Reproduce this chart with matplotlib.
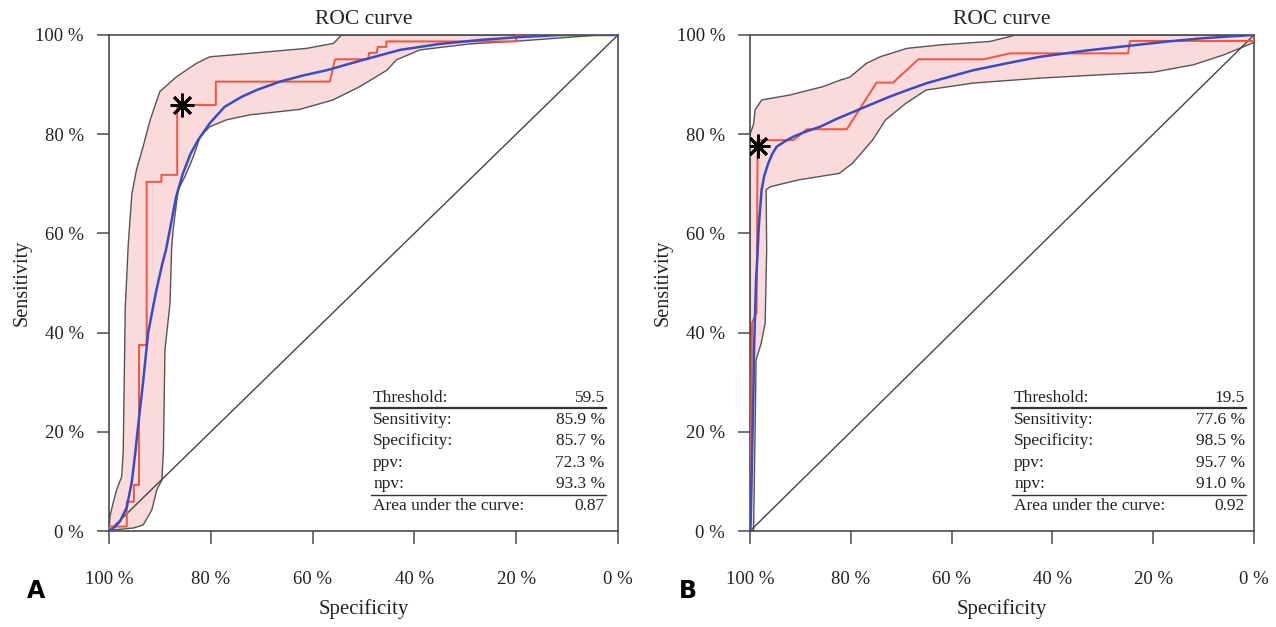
import matplotlib
matplotlib.use("Agg")
import matplotlib.pyplot as plt
import numpy as np

plt.rcParams['font.family'] = ['Liberation Serif', 'DejaVu Serif']

# ---- panel A data (specificity, sensitivity) ----
roc_a_spec = [1.0, 1.0, 0.965, 0.965, 0.951, 0.951, 0.941, 0.941, 0.926, 0.926, 0.897, 0.897,
              0.866, 0.866, 0.79, 0.79, 0.566, 0.556, 0.491, 0.489, 0.474, 0.472, 0.455, 0.455,
              0.20, 0.20, 0.0]
roc_a_sens = [0.0, 0.009, 0.009, 0.059, 0.059, 0.093, 0.093, 0.375, 0.375, 0.704, 0.704, 0.718,
              0.718, 0.859, 0.859, 0.906, 0.906, 0.951, 0.951, 0.964, 0.964, 0.976, 0.976, 0.987,
              0.987, 1.0, 1.0]
smooth_a_spec = [1.0, 0.995, 0.988, 0.978, 0.965, 0.955, 0.948, 0.944, 0.933, 0.923, 0.908,
                 0.895, 0.888, 0.878, 0.868, 0.855, 0.84, 0.825, 0.802, 0.773, 0.74, 0.71,
                 0.664, 0.62, 0.572, 0.5, 0.428, 0.35, 0.27, 0.19, 0.114, 0.0]
smooth_a_sens = [0.0, 0.003, 0.009, 0.02, 0.048, 0.10, 0.16, 0.20, 0.30, 0.40, 0.48, 0.54,
                 0.567, 0.62, 0.674, 0.72, 0.76, 0.788, 0.822, 0.855, 0.875, 0.889, 0.906,
                 0.918, 0.929, 0.95, 0.97, 0.982, 0.99, 0.996, 1.0, 1.0]
ci_a_up_spec = [1.0, 0.998, 0.992, 0.985, 0.975, 0.972, 0.968, 0.962, 0.955, 0.946, 0.933, 0.919,
                0.900, 0.867, 0.828, 0.802, 0.756, 0.690, 0.612, 0.559, 0.543, 0.0]
ci_a_up_sens = [0.0, 0.03, 0.056, 0.083, 0.11, 0.16, 0.45, 0.58, 0.68, 0.728, 0.775, 0.829,
                0.886, 0.916, 0.943, 0.956, 0.960, 0.966, 0.973, 0.983, 1.0, 1.0]
ci_a_lo_spec = [1.0, 0.992, 0.952, 0.933, 0.916, 0.906, 0.896, 0.893, 0.890, 0.880, 0.877, 0.874,
                0.864, 0.851, 0.834, 0.821, 0.802, 0.769, 0.723, 0.625, 0.560, 0.507, 0.454,
                0.435, 0.389, 0.291, 0.193, 0.114, 0.035, 0.0]
ci_a_lo_sens = [0.0, 0.002, 0.006, 0.012, 0.042, 0.083, 0.103, 0.163, 0.365, 0.46, 0.567, 0.607,
                0.688, 0.714, 0.755, 0.795, 0.815, 0.829, 0.839, 0.85, 0.869, 0.896, 0.929,
                0.95, 0.97, 0.982, 0.988, 0.994, 1.0, 1.0]
best_a = (0.857, 0.859)
labels_a = ["Threshold:", "Sensitivity:", "Specificity:", "ppv:", "npv:", "Area under the curve:"]
values_a = ["59.5", "85.9 %", "85.7 %", "72.3 %", "93.3 %", "0.87"]

# ---- panel B data ----
roc_b_spec = [1.0, 0.996, 0.987, 0.985, 0.985, 0.914, 0.887, 0.808, 0.749, 0.716, 0.666, 0.537,
              0.484, 0.25, 0.246, 0.0, 0.0]
roc_b_sens = [0.0, 0.42, 0.44, 0.776, 0.788, 0.788, 0.81, 0.81, 0.904, 0.904, 0.951, 0.951,
              0.963, 0.963, 0.988, 0.988, 1.0]
smooth_b_spec = [1.0, 0.999, 0.997, 0.995, 0.993, 0.992, 0.990, 0.988, 0.985, 0.983, 0.980,
                 0.977, 0.972, 0.964, 0.956, 0.947, 0.93, 0.914, 0.89, 0.861, 0.83, 0.802,
                 0.76, 0.722, 0.685, 0.649, 0.6, 0.557, 0.49, 0.425, 0.33, 0.25, 0.17, 0.107,
                 0.05, 0.0]
smooth_b_sens = [0.0, 0.01, 0.1, 0.2, 0.3, 0.365, 0.44, 0.506, 0.56, 0.607, 0.65,
                 0.688, 0.715, 0.741, 0.76, 0.775, 0.786, 0.795, 0.805, 0.815, 0.83, 0.842,
                 0.86, 0.876, 0.89, 0.903, 0.917, 0.929, 0.943, 0.956, 0.969, 0.978, 0.987,
                 0.993, 0.997, 1.0]
ci_b_up_spec = [1.0, 1.0, 0.993, 0.99, 0.977, 0.921, 0.855, 0.821, 0.802, 0.769, 0.742, 0.689,
                0.623, 0.524, 0.484, 0.474, 0.0]
ci_b_up_sens = [0.0, 0.80, 0.82, 0.849, 0.869, 0.879, 0.896, 0.909, 0.915, 0.943, 0.956, 0.973,
                0.98, 0.987, 0.997, 1.0, 1.0]
ci_b_lo_spec = [1.0, 0.993, 0.99, 0.988, 0.978, 0.97, 0.967, 0.968, 0.96, 0.903, 0.823, 0.797,
                0.757, 0.731, 0.691, 0.651, 0.558, 0.425, 0.3, 0.2, 0.12, 0.06, 0.0]
ci_b_lo_sens = [0.0, 0.0, 0.2, 0.345, 0.378, 0.419, 0.567, 0.688, 0.694, 0.708, 0.721, 0.741,
                0.788, 0.829, 0.862, 0.889, 0.903, 0.913, 0.92, 0.925, 0.94, 0.96, 0.985]
best_b = (0.985, 0.776)
labels_b = labels_a
values_b = ["19.5", "77.6 %", "98.5 %", "95.7 %", "91.0 %", "0.92"]

ticks = [1.0, 0.8, 0.6, 0.4, 0.2, 0.0]
tick_labels = ["100 %", "80 %", "60 %", "40 %", "20 %", "0 %"]

axis_col = "#4a4a4a"
fig = plt.figure(figsize=(12.76, 6.27), dpi=100)


def roc_panel(rect, roc, smooth, ci_up, ci_lo, best, labels, values, tx, letter, lx):
    ax = fig.add_axes(rect)
    # confidence band as polygon
    px = list(ci_up[0]) + list(ci_lo[0])[::-1]
    py = list(ci_up[1]) + list(ci_lo[1])[::-1]
    ax.fill(px, py, color="#fadada", lw=0, zorder=1)
    ax.plot(ci_up[0], ci_up[1], color="#555555", lw=1.0, zorder=2)
    ax.plot(ci_lo[0], ci_lo[1], color="#555555", lw=1.0, zorder=2)
    ax.plot([1, 0], [0, 1], color="#444444", lw=1.0, zorder=2)
    ax.plot(roc[0], roc[1], color="#f2553f", lw=1.4, zorder=3)
    ax.plot(smooth[0], smooth[1], color="#3a4cc4", lw=1.8, zorder=4)
    ax.plot([best[0]], [best[1]], marker=(8, 2, 0), color="black", ms=17, mew=2, zorder=5)

    ax.set_xlim(1, 0)
    ax.set_ylim(0, 1)
    ax.set_xticks(ticks)
    ax.set_xticklabels(tick_labels)
    ax.set_yticks(ticks)
    ax.set_yticklabels(tick_labels)
    ax.tick_params(axis="both", direction="out", length=9, width=1.1, color=axis_col,
                   labelsize=13.5, labelcolor="#222222")
    ax.tick_params(axis="x", pad=20)
    ax.tick_params(axis="y", pad=9)
    for s in ax.spines.values():
        s.set_color(axis_col)
        s.set_linewidth(1.2)
    ax.set_title("ROC curve", fontsize=15.5, color="#222222", pad=8)
    ax.set_xlabel("Specificity", fontsize=15, color="#222222", labelpad=8)
    ax.set_ylabel("Sensitivity", fontsize=14.5, color="#222222", labelpad=3)

    # statistics table
    ys = [0.268, 0.224, 0.182, 0.138, 0.094, 0.050]
    for lab, val, y in zip(labels, values, ys):
        ax.text(tx[0], y, lab, transform=ax.transAxes, fontsize=12.5, color="#222222",
                ha="left", va="center")
        ax.text(tx[1], y, val, transform=ax.transAxes, fontsize=12.5, color="#222222",
                ha="right", va="center")
    for y, lw in [(0.247, 1.6), (0.072, 1.0)]:
        ax.plot([tx[0] - 0.005, tx[1] + 0.003], [y, y], transform=ax.transAxes,
                color="#333333", lw=lw, clip_on=False)
    fig.text(lx, 0.058, letter, fontsize=17, fontweight="bold", family="DejaVu Sans",
             ha="center", va="center")
    return ax


roc_panel([0.0854, 0.1531, 0.3989, 0.7911], (roc_a_spec, roc_a_sens),
          (smooth_a_spec, smooth_a_sens), (ci_a_up_spec, ci_a_up_sens),
          (ci_a_lo_spec, ci_a_lo_sens), best_a, labels_a, values_a, (0.519, 0.974), "A", 0.028)
roc_panel([0.5878, 0.1531, 0.3950, 0.7911], (roc_b_spec, roc_b_sens),
          (smooth_b_spec, smooth_b_sens), (ci_b_up_spec, ci_b_up_sens),
          (ci_b_lo_spec, ci_b_lo_sens), best_b, labels_b, values_b, (0.524, 0.982), "B", 0.539)

fig.savefig("out.png", dpi=100)
